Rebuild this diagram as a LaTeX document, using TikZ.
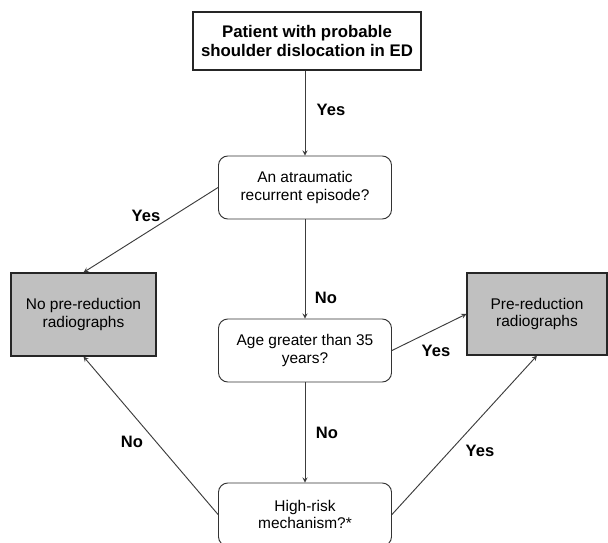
\documentclass[tikz,border=0pt]{standalone}
\usepackage{fontspec}
\setmainfont{Liberation Sans}
\usepackage{xcolor}
\usepackage{tikz}
\usetikzlibrary{arrows}
\usetikzlibrary{positioning}

\definecolor{boxgrey}{RGB}{192,192,192}
\definecolor{edgegrey}{RGB}{60,60,60}

\tikzset{
  startbox/.style={draw=black!85,line width=0.9pt,align=center,
    font=\fontsize{12.6}{14.5}\selectfont\bfseries,
    minimum width=171pt,minimum height=43.5pt},
  question/.style={draw=black!80,line width=0.7pt,rounded corners=7pt,align=center,
    minimum width=129.75pt,minimum height=47.25pt},
  outcome/.style={draw=black!85,line width=0.9pt,fill=boxgrey,align=center,
    minimum width=108.75pt,minimum height=62.25pt},
  flow/.style={->,edgegrey,line width=0.7pt},
  answer/.style={font=\fontsize{12.4}{14}\selectfont\bfseries}
}

\begin{document}
\begin{tikzpicture}[x=0.75pt,y=-0.75pt,>=stealth,font=\fontsize{11.6}{13.2}\selectfont]
    \useasboundingbox (0,0) rectangle (608,543);
    \node [startbox] (start) at (307,41) {Patient with probable\\shoulder dislocation in ED};
    \node [question] (atrau) at (305,187.5) {An atraumatic\\recurrent episode?};
    \node [question] (age) at (305,350.5) {Age greater than 35\\years?};
    \node [question] (risk) at (305,514.5) {High-risk\\mechanism?*};
    \node [outcome] (noxr) at (83.5,314.5) {No pre-reduction\\radiographs};
    \node [outcome,minimum width=105pt,minimum height=61.5pt] (prexr) at (537,314) {Pre-reduction\\radiographs};

    % arrows
    \draw [flow] (start.south -| atrau.north) -- (atrau.north);
    \draw [flow] (atrau.west) -- (noxr.north);
    \draw [flow] (atrau) -- (age);
    \draw [flow] (age.east) -- (prexr.west);
    \draw [flow] (age) -- (risk);
    \draw [flow] (risk.east) -- (prexr.south);
    \draw [flow] (risk.west) -- (noxr.south);

    % answers
    \node [answer] (y1) at (331,110) {Yes};
    \node [answer] (y2) at (146,216) {Yes};
    \node [answer] (n1) at (326,298) {No};
    \node [answer] (y3) at (436,351) {Yes};
    \node [answer] (n2) at (327,433) {No};
    \node [answer] (y4) at (480,451) {Yes};
    \node [answer] (n3) at (132,442) {No};
  \end{tikzpicture}
\end{document}
